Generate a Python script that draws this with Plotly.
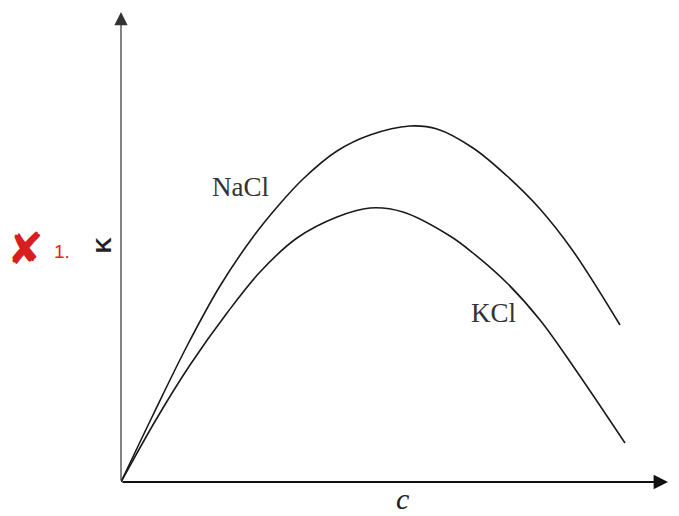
import plotly.graph_objects as go

# Values (arbitrary units)
c_nacl = [0.0, 0.32, 0.66, 0.99, 1.32, 1.57, 1.82, 2.16, 2.49, 2.89, 3.16, 3.52, 3.86, 4.19, 4.52, 4.99]
k_nacl = [0.0, 0.67, 1.36, 1.96, 2.45, 2.76, 3.03, 3.31, 3.47, 3.56, 3.53, 3.34, 3.06, 2.73, 2.31, 1.57]

c_kcl = [0.0, 0.36, 0.69, 1.06, 1.39, 1.76, 2.16, 2.49, 2.82, 3.29, 3.52, 3.86, 4.19, 4.52, 5.04]
k_kcl = [0.0, 0.64, 1.17, 1.69, 2.10, 2.44, 2.65, 2.74, 2.70, 2.46, 2.29, 1.99, 1.62, 1.16, 0.39]

x_max = 5.47
y_max = 4.70

fig = go.Figure()
for xs, ys in [(c_nacl, k_nacl), (c_kcl, k_kcl)]:
    fig.add_trace(go.Scatter(x=xs, y=ys, mode="lines",
                             line=dict(color="#1a1a1a", width=1.6, shape="spline", smoothing=1.0),
                             hoverinfo="skip", showlegend=False))

serif = "Liberation Serif"
ann = [
    dict(x=x_max, y=0, ax=0, ay=0, xref="x", yref="y", axref="x", ayref="y",
         showarrow=True, arrowhead=2, arrowsize=1.6, arrowwidth=1.8, arrowcolor="#111", text=""),
    dict(x=0, y=y_max, ax=0, ay=0, xref="x", yref="y", axref="x", ayref="y",
         showarrow=True, arrowhead=2, arrowsize=2.2, arrowwidth=1.2, arrowcolor="#333", text=""),
    dict(x=1.19, y=2.95, xref="x", yref="y", text="NaCl", showarrow=False,
         font=dict(family=serif, size=27, color="#333")),
    dict(x=3.72, y=1.69, xref="x", yref="y", text="KCl", showarrow=False,
         font=dict(family=serif, size=27, color="#333")),
    dict(x=0.514, y=-0.075, xref="paper", yref="paper", text="<i>c</i>", showarrow=False,
         font=dict(family=serif, size=30, color="#222")),
]
fig.update_layout(annotations=ann)

fig.add_annotation(x=-0.058, y=0.503, xref="paper", yref="paper", text="<b>K</b>", textangle=-90,
                   showarrow=False, font=dict(family="Liberation Sans", size=22, color="#222"))
fig.add_annotation(x=-0.127, y=0.490, xref="paper", yref="paper", text="1.", showarrow=False,
                   font=dict(family="Liberation Sans", size=19, color="#e5231c"))
fig.add_annotation(x=-0.138, y=0.497, xref="paper", yref="paper", text="✘", showarrow=False,
                   xanchor="right",
                   font=dict(family="DejaVu Sans", size=44, color="#d81e1e"))

fig.update_layout(
    width=679, height=516,
    margin=dict(l=113, r=19, t=4, b=42, autoexpand=False),
    paper_bgcolor="white", plot_bgcolor="white",
    xaxis=dict(range=[0, x_max], showgrid=False, zeroline=False, showticklabels=False,
               ticks="", showline=False, fixedrange=True),
    yaxis=dict(range=[0, y_max], showgrid=False, zeroline=False, showticklabels=False,
               ticks="", showline=False, fixedrange=True),
)
fig.write_html("out.html")
